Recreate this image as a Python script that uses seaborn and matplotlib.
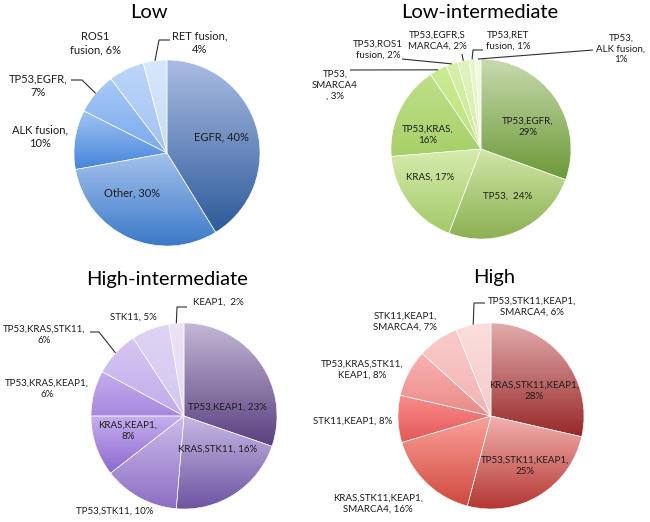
import numpy as np
import matplotlib
matplotlib.use("Agg")
import matplotlib.pyplot as plt
import seaborn as sns

sns.set_theme(style="white")
plt.rcParams['font.family'] = ['Lato', 'DejaVu Sans']

# ---- data ----
low_names = ["EGFR", "Other", "ALK fusion", "TP53,EGFR", "ROS1\nfusion", "RET fusion"]
low_values = [40, 30, 10, 7, 6, 4]
low_seps = [", ", ", ", ",\n", ",\n", ", ", ",\n"]

lowint_names = ["TP53,EGFR", "TP53", "KRAS", "TP53,KRAS", "TP53,\nSMARCA4",
                "TP53,ROS1\nfusion", "TP53,EGFR,S\nMARCA4", "TP53,RET\nfusion", "TP53,\nALK fusion"]
lowint_values = [29, 24, 17, 16, 3, 2, 2, 1, 1]
lowint_seps = [",\n", ",  ", ", ", ",\n", "\n, ", ", ", ", ", ", ", ",\n"]

highint_names = ["TP53,KEAP1", "KRAS,STK11", "TP53,STK11", "KRAS,KEAP1",
                 "TP53,KRAS,KEAP1", "TP53,KRAS,STK11", "STK11", "KEAP1"]
highint_values = [23, 16, 10, 8, 6, 6, 5, 2]
highint_seps = [", ", ", ", ", ", ",\n", ",\n", ",\n", ", ", ",  "]

high_names = ["KRAS,STK11,KEAP1", "TP53,STK11,KEAP1", "KRAS,STK11,KEAP1,\nSMARCA4", "STK11,KEAP1",
              "TP53,KRAS,STK11,\nKEAP1", "STK11,KEAP1,\nSMARCA4", "TP53,STK11,KEAP1,\nSMARCA4"]
high_values = [28, 25, 16, 8, 8, 7, 6]
high_seps = [",\n", ",\n", ", ", ", ", ", ", ", ", ", "]

# ---- colours (top, bottom of each slice gradient) ----
low_colors = [("#aabde3", "#2d5a9a"), ("#a3c2ec", "#3b78c8"), ("#a2c5f4", "#4585dc"),
              ("#a8c9f5", "#7aaaf0"), ("#bdd6f8", "#a2c3f2"), ("#d7e7fc", "#c6dbfa")]
lowint_colors = [("#c9daaf", "#6a9936"), ("#d0e6a6", "#8bb052"), ("#d7ecae", "#a3ca68"),
                 ("#bfe08a", "#a6d068"), ("#cbec92", "#bde27e"), ("#d6f0a6", "#caea94"),
                 ("#e0f4bc", "#d6efaa"), ("#e8f8cc", "#dff3bc"), ("#f1fbe0", "#e8f6d2")]
highint_colors = [("#c4b8d6", "#5a3f80"), ("#c6b8e4", "#6c53a0"), ("#ccbcea", "#8d6dc2"),
                  ("#c8b0f0", "#8c68ce"), ("#c6adee", "#a689e0"), ("#d5c7f3", "#c1abea"),
                  ("#ded4f4", "#d3c7f0"), ("#ebe4f7", "#e2d9f4")]
high_colors = [("#e2acac", "#982727"), ("#f3b2b0", "#b33531"), ("#fba29a", "#d0483d"),
               ("#fb8e8e", "#e35856"), ("#fbb2b2", "#e98a88"), ("#fbcaca", "#f2b4b4"),
               ("#fcdddd", "#f5caca")]

W, H = 650, 522
fig = plt.figure(figsize=(W / 100, H / 100), dpi=100)
canvas = fig.add_axes([0, 0, 1, 1], zorder=5)
canvas.set_xlim(0, W)
canvas.set_ylim(H, 0)
canvas.axis("off")
canvas.patch.set_alpha(0)

TXT = "#1c1c1c"


def draw_pie(title, names, values, seps, colors, center, radius, title_xy,
             label_xy, leaders, fsize):
    cx, cy = center
    ax = fig.add_axes([(cx - radius) / W, 1 - (cy + radius) / H, 2 * radius / W, 2 * radius / H])
    wedges, _ = ax.pie(values, startangle=90, counterclock=False, radius=1,
                       wedgeprops=dict(facecolor="none", edgecolor="white", linewidth=0.4))
    grad = np.linspace(0, 1, 256).reshape(-1, 1)
    for w, (top, bot) in zip(wedges, colors):
        v = w.get_path().vertices
        x0, y0 = v.min(axis=0)
        x1, y1 = v.max(axis=0)
        cmap = sns.blend_palette([top, bot], as_cmap=True)
        im = ax.imshow(grad, extent=(x0, x1, y0, y1), origin="upper", cmap=cmap,
                       aspect="auto", interpolation="bilinear", zorder=0)
        im.set_clip_path(w)
    ax.set_xlim(-1, 1)
    ax.set_ylim(-1, 1)
    ax.axis("off")

    canvas.text(title_xy[0], title_xy[1], title, ha="center", va="center",
                fontsize=14.5, color="black")
    for i, (w, n, v, s) in enumerate(zip(wedges, names, values, seps)):
        lx, ly = label_xy[i]
        canvas.text(lx, ly, f"{n}{s}{v}%", ha="center", va="center", fontsize=fsize,
                    color=TXT, linespacing=1.25)
        if leaders[i] is not None:
            mid = np.deg2rad((w.theta1 + w.theta2) / 2)
            ex = cx + radius * np.cos(mid)
            ey = cy - radius * np.sin(mid)
            pts = leaders[i] + [(ex, ey)]
            xs, ys = zip(*pts)
            canvas.plot(xs, ys, color="#303030", lw=0.8, solid_capstyle="butt")


draw_pie("Low", low_names, low_values, low_seps, low_colors, (167, 153), 93, (149, 12),
         [(221, 137), (132, 193), (40, 137), (38, 86), (95, 43), (200, 43)],
         [None, None, None, [(71, 80), (82, 80)], None, [(170, 40), (159, 40)]], 8)

draw_pie("Low-intermediate", lowint_names, lowint_values, lowint_seps, lowint_colors,
         (481, 149), 90, (480, 13),
         [(528, 127), (508, 196), (430, 177), (428, 135), (335, 85), (378, 50),
          (437, 41), (508, 41), (621, 49)],
         [None, None, None, None, [(350, 70)], [(402, 59)], [(462, 54)],
          [(483, 50), (473, 50)], [(593, 50)]], 7)

draw_pie("High-intermediate", highint_names, highint_values, highint_seps, highint_colors,
         (184, 416), 93, (167, 280),
         [(227, 407), (218, 449), (115, 511), (128, 431), (47, 389), (44, 335),
          (133, 317), (218, 302)],
         [None, None, None, None, None, [(90, 332), (99, 332)], None,
          [(187, 307), (177, 307)]], 7)

draw_pie("High", high_names, high_values, high_seps, high_colors, (491, 416), 93, (494, 278),
         [(534, 391), (525, 466), (378, 504), (353, 421), (362, 370), (405, 322), (532, 307)],
         [None, None, None, None, None, None, [(485, 303), (474, 303)]], 7)

fig.savefig("out.png", dpi=100, facecolor="white")
